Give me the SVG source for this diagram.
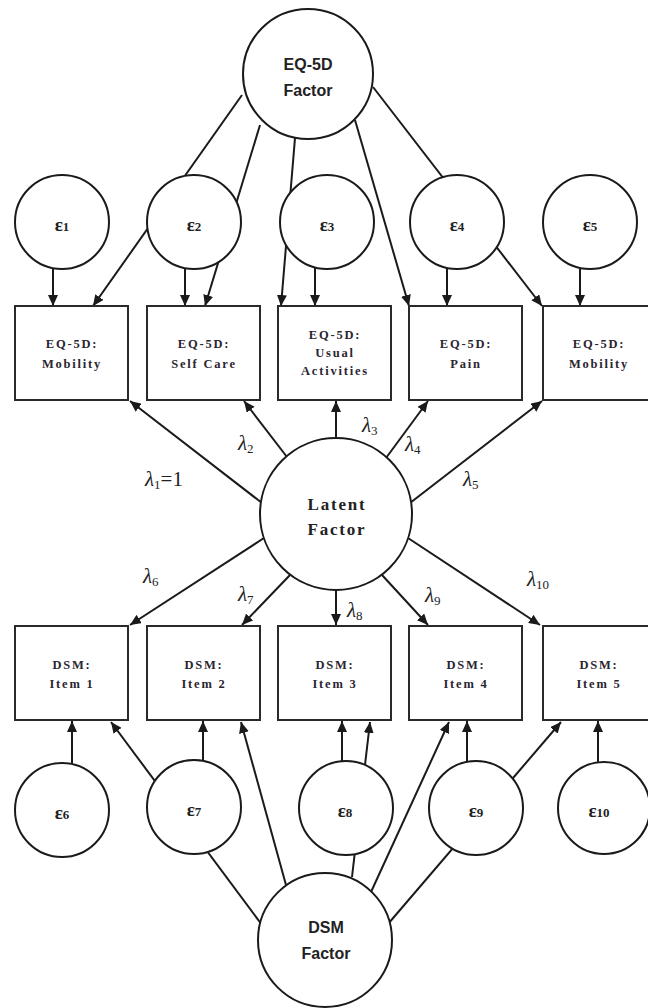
<svg xmlns="http://www.w3.org/2000/svg" width="648" height="1008" viewBox="0 0 648 1008">
<style>
.c{fill:#fff;stroke:#1a1a1a;stroke-width:2}
.b{fill:#fff;stroke:#2a2a2a;stroke-width:2}
.l{stroke:#1a1a1a;stroke-width:2;fill:none}
.a{marker-end:url(#ah)}
.ft{font-family:"Liberation Sans",Arial,sans-serif;font-weight:bold;font-size:16px;fill:#222;text-anchor:middle}
.lt{font-family:"Liberation Serif","Times New Roman",serif;font-weight:bold;font-size:17px;letter-spacing:1.8px;fill:#222;text-anchor:middle}
.bt{font-family:"Liberation Serif","Times New Roman",serif;font-weight:bold;font-size:12.5px;letter-spacing:1.8px;fill:#2a2530;text-anchor:middle}
.et{font-family:"Liberation Serif","Times New Roman",serif;font-weight:bold;font-size:19px;fill:#222;text-anchor:middle}
.lam{font-family:"Liberation Serif","Times New Roman",serif;font-style:italic;font-size:21px;fill:#222}
.sub{font-size:13px;font-style:normal}
</style>
<defs>
<marker id="ah" markerUnits="userSpaceOnUse" markerWidth="11" markerHeight="10" refX="11" refY="5" orient="auto">
<path d="M0,0 L11,5 L0,10 z" fill="#1a1a1a"/>
</marker>
</defs>
<g id="connectors">
<line class="l a" x1="242" y1="95" x2="93" y2="306"/>
<line class="l a" x1="260" y1="125" x2="205" y2="306"/>
<line class="l a" x1="295" y1="138" x2="281" y2="306"/>
<line class="l a" x1="355" y1="120" x2="409" y2="306"/>
<line class="l a" x1="373" y1="87" x2="542" y2="306"/>
<line class="l a" x1="53" y1="266" x2="53" y2="306"/>
<line class="l a" x1="185" y1="266" x2="185" y2="306"/>
<line class="l a" x1="315" y1="266" x2="315" y2="306"/>
<line class="l a" x1="447" y1="266" x2="447" y2="306"/>
<line class="l a" x1="580" y1="266" x2="580" y2="306"/>
<line class="l a" x1="262" y1="503" x2="130" y2="401"/>
<line class="l a" x1="287" y1="457" x2="244" y2="401"/>
<line class="l a" x1="336" y1="440" x2="336" y2="401"/>
<line class="l a" x1="386" y1="458" x2="428" y2="401"/>
<line class="l a" x1="410" y1="503" x2="542" y2="401"/>
<line class="l a" x1="264" y1="538" x2="130" y2="625"/>
<line class="l a" x1="290" y1="575" x2="242" y2="625"/>
<line class="l a" x1="336" y1="588" x2="336" y2="625"/>
<line class="l a" x1="382" y1="575" x2="428" y2="625"/>
<line class="l a" x1="408" y1="538" x2="540" y2="625"/>
<line class="l a" x1="72" y1="765" x2="72" y2="721"/>
<line class="l a" x1="203" y1="762" x2="203" y2="721"/>
<line class="l a" x1="342" y1="764" x2="342" y2="721"/>
<line class="l a" x1="467" y1="764" x2="467" y2="721"/>
<line class="l a" x1="598" y1="764" x2="598" y2="721"/>
<line class="l a" x1="262" y1="925" x2="111" y2="722"/>
<line class="l a" x1="286" y1="885" x2="241" y2="722"/>
<line class="l a" x1="352" y1="877" x2="370" y2="722"/>
<line class="l a" x1="371" y1="892" x2="449" y2="722"/>
<line class="l a" x1="388" y1="924" x2="561" y2="722"/>
</g>
<g id="eq5d_factor"><circle class="c" cx="308" cy="74" r="65"/><text class="ft" x="308" y="70">EQ-5D</text><text class="ft" x="308" y="96">Factor</text></g>
<g id="e1"><circle class="c" cx="62" cy="222" r="47"/><text class="et" x="62" y="231">ε<tspan font-size="13">1</tspan></text></g>
<g id="e2"><circle class="c" cx="194" cy="222" r="47"/><text class="et" x="194" y="231">ε<tspan font-size="13">2</tspan></text></g>
<g id="e3"><circle class="c" cx="327" cy="222" r="47"/><text class="et" x="327" y="231">ε<tspan font-size="13">3</tspan></text></g>
<g id="e4"><circle class="c" cx="457" cy="222" r="47"/><text class="et" x="457" y="231">ε<tspan font-size="13">4</tspan></text></g>
<g id="e5"><circle class="c" cx="590" cy="222" r="47"/><text class="et" x="590" y="231">ε<tspan font-size="13">5</tspan></text></g>
<g id="box_mobility"><rect class="b" x="15" y="306" width="113" height="94"/><text class="bt" x="72" y="348">EQ-5D:</text><text class="bt" x="72" y="368">Mobility</text></g>
<g id="box_selfcare"><rect class="b" x="147" y="306" width="113" height="94"/><text class="bt" x="204" y="348">EQ-5D:</text><text class="bt" x="204" y="368">Self Care</text></g>
<g id="box_usual"><rect class="b" x="278" y="306" width="113" height="94"/><text class="bt" x="335" y="339">EQ-5D:</text><text class="bt" x="335" y="357">Usual</text><text class="bt" x="335" y="375">Activities</text></g>
<g id="box_pain"><rect class="b" x="409" y="306" width="113" height="94"/><text class="bt" x="466" y="348">EQ-5D:</text><text class="bt" x="466" y="368">Pain</text></g>
<g id="box_mobility2"><rect class="b" x="543" y="306" width="113" height="94"/><text class="bt" x="599" y="348">EQ-5D:</text><text class="bt" x="599" y="368">Mobility</text></g>
<g id="latent_factor"><circle class="c" cx="336" cy="514" r="76"/><text class="lt" x="337" y="510">Latent</text><text class="lt" x="337" y="535">Factor</text></g>
<g id="labels">
<text class="lam" x="145" y="486">λ<tspan class="sub" dy="3">1</tspan><tspan dy="-3" font-style="normal">=1</tspan></text>
<text class="lam" x="238" y="450">λ<tspan class="sub" dy="3">2</tspan></text>
<text class="lam" x="362" y="432">λ<tspan class="sub" dy="3">3</tspan></text>
<text class="lam" x="405" y="451">λ<tspan class="sub" dy="3">4</tspan></text>
<text class="lam" x="463" y="486">λ<tspan class="sub" dy="3">5</tspan></text>
<text class="lam" x="143" y="583">λ<tspan class="sub" dy="3">6</tspan></text>
<text class="lam" x="238" y="601">λ<tspan class="sub" dy="3">7</tspan></text>
<text class="lam" x="347" y="617">λ<tspan class="sub" dy="3">8</tspan></text>
<text class="lam" x="425" y="602">λ<tspan class="sub" dy="3">9</tspan></text>
<text class="lam" x="527" y="586">λ<tspan class="sub" dy="3">10</tspan></text>
</g>
<g id="dsm1"><rect class="b" x="15" y="626" width="113" height="94"/><text class="bt" x="72" y="669">DSM:</text><text class="bt" x="72" y="688">Item 1</text></g>
<g id="dsm2"><rect class="b" x="147" y="626" width="113" height="94"/><text class="bt" x="204" y="669">DSM:</text><text class="bt" x="204" y="688">Item 2</text></g>
<g id="dsm3"><rect class="b" x="278" y="626" width="113" height="94"/><text class="bt" x="335" y="669">DSM:</text><text class="bt" x="335" y="688">Item 3</text></g>
<g id="dsm4"><rect class="b" x="409" y="626" width="113" height="94"/><text class="bt" x="466" y="669">DSM:</text><text class="bt" x="466" y="688">Item 4</text></g>
<g id="dsm5"><rect class="b" x="543" y="626" width="113" height="94"/><text class="bt" x="599" y="669">DSM:</text><text class="bt" x="599" y="688">Item 5</text></g>
<g id="e6"><circle class="c" cx="62" cy="810" r="47"/><text class="et" x="62" y="819">ε<tspan font-size="13">6</tspan></text></g>
<g id="e7"><circle class="c" cx="194" cy="807" r="47"/><text class="et" x="194" y="816">ε<tspan font-size="13">7</tspan></text></g>
<g id="e8"><circle class="c" cx="346" cy="808" r="47"/><text class="et" x="345" y="817">ε<tspan font-size="13">8</tspan></text></g>
<g id="e9"><circle class="c" cx="476" cy="808" r="47"/><text class="et" x="476" y="817">ε<tspan font-size="13">9</tspan></text></g>
<g id="e10"><circle class="c" cx="604" cy="808" r="46"/><text class="et" x="599" y="817">ε<tspan font-size="13">10</tspan></text></g>
<g id="dsm_factor"><circle class="c" cx="325" cy="940" r="67"/><text class="ft" x="326" y="933">DSM</text><text class="ft" x="326" y="959">Factor</text></g>
</svg>
